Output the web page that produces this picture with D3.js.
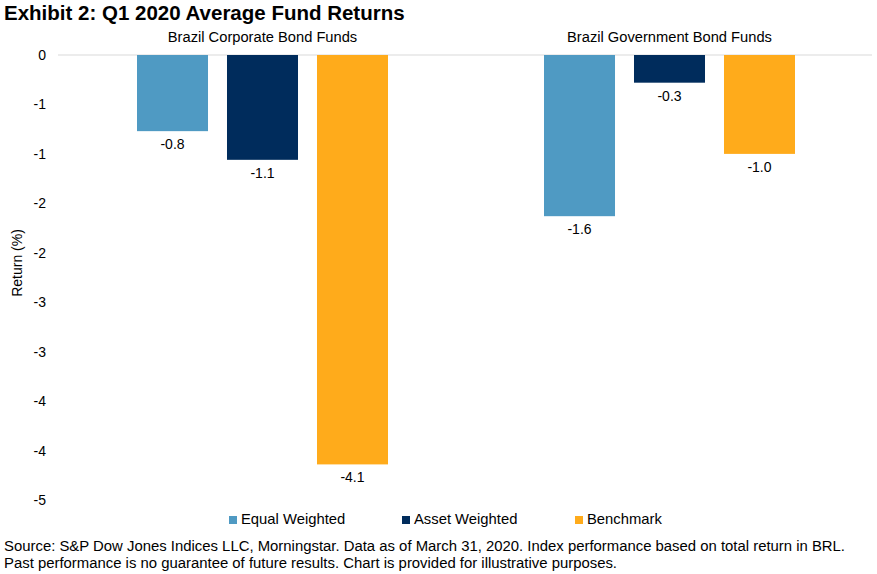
<!DOCTYPE html>
<html>
<head>
<meta charset="utf-8">
<script src="https://cdn.jsdelivr.net/npm/d3@7"></script>
<style>
  body { margin: 0; background: #fff; }
  svg text { font-family: "Liberation Sans", Arial, sans-serif; fill: #000; }
</style>
</head>
<body>
<div id="chart"></div>
<script>
// chart data
const categories = ["Brazil Corporate Bond Funds", "Brazil Government Bond Funds"];
const seriesNames = ["Equal Weighted", "Asset Weighted", "Benchmark"];
const equalWeighted = [-0.77, -1.63];
const assetWeighted = [-1.06, -0.28];
const benchmark = [-4.14, -1.0];
const valueLabels = [["-0.8", "-1.1", "-4.1"], ["-1.6", "-0.3", "-1.0"]];
const tickValues = [0, -0.5, -1, -1.5, -2, -2.5, -3, -3.5, -4, -4.5];
const tickLabels = ["0", "-1", "-1", "-2", "-2", "-3", "-3", "-4", "-4", "-5"];

const colors = ["#4F9AC3", "#002C5C", "#FFAB1B"];
const width = 877, height = 574;

const svg = d3.select("#chart")
    .append("svg")
    .attr("width", width)
    .attr("height", height);

// rows for bars
const rows = [];
categories.forEach(function(c, i) {
    [equalWeighted, assetWeighted, benchmark].forEach(function(s, j) {
        rows.push({ category: c, series: seriesNames[j], value: s[i], label: valueLabels[i][j] });
    });
});

const x0 = d3.scaleBand()
    .domain(categories)
    .range([59, 873]);

const x1 = d3.scaleBand()
    .domain(seriesNames)
    .range([78, 329])
    .paddingInner(0.211);

const y = d3.scaleLinear()
    .domain([-4.5, 0])
    .range([500, 55]);

const color = d3.scaleOrdinal().domain(seriesNames).range(colors);

// title
svg.append("text")
    .attr("x", 4)
    .attr("y", 20)
    .attr("font-size", "20.5px")
    .attr("font-weight", "bold")
    .text("Exhibit 2: Q1 2020 Average Fund Returns");

// zero line
svg.append("line")
    .attr("x1", 58)
    .attr("x2", 872)
    .attr("y1", y(0))
    .attr("y2", y(0))
    .attr("stroke", "#D9D9D9")
    .attr("stroke-width", 1);

// y axis (labels only)
const yAxis = d3.axisLeft(y)
    .tickValues(tickValues)
    .tickSize(0)
    .tickPadding(0)
    .tickFormat(function(d, i) { return tickLabels[i]; });

const yg = svg.append("g")
    .attr("transform", "translate(46,0)")
    .call(yAxis);
yg.select(".domain").remove();
yg.selectAll("text")
    .attr("font-size", "14px")
    .attr("font-family", "Liberation Sans, Arial, sans-serif")
    .attr("fill", "#000");

svg.append("text")
    .attr("transform", "translate(22,263) rotate(-90)")
    .attr("text-anchor", "middle")
    .attr("font-size", "14px")
    .text("Return (%)");

// category labels on top
svg.selectAll(".cat")
    .data(categories)
    .enter()
    .append("text")
    .attr("class", "cat")
    .attr("x", function(d) { return x0(d) + x0.bandwidth() / 2; })
    .attr("y", 42)
    .attr("text-anchor", "middle")
    .attr("font-size", "14.7px")
    .attr("fill", "#000")
    .text(function(d) { return d; });

// bars
svg.selectAll(".bar")
    .data(rows)
    .enter()
    .append("rect")
    .attr("class", "bar")
    .attr("x", function(d) { return x0(d.category) + x1(d.series); })
    .attr("width", x1.bandwidth())
    .attr("y", function(d) { return y(0); })
    .attr("height", function(d) { return y(d.value) - y(0); })
    .attr("fill", function(d) { return color(d.series); });

svg.selectAll(".vlabel")
    .data(rows)
    .enter()
    .append("text")
    .attr("class", "vlabel")
    .attr("x", function(d) { return x0(d.category) + x1(d.series) + x1.bandwidth() / 2; })
    .attr("y", function(d) { return y(d.value) + 18; })
    .attr("text-anchor", "middle")
    .attr("font-size", "14px")
    .text(function(d) { return d.label; });

// legend
const legend = svg.selectAll(".legend")
    .data(seriesNames)
    .enter()
    .append("g")
    .attr("class", "legend")
    .attr("transform", function(d, i) { return "translate(" + (229 + i * 173) + ",515)"; });

legend.append("rect")
    .attr("width", 8)
    .attr("height", 8)
    .attr("y", 1)
    .attr("fill", function(d) { return color(d); });

legend.append("text")
    .attr("x", 12)
    .attr("y", 9)
    .attr("font-size", "14.8px")
    .text(function(d) { return d; });

// footer
svg.append("text")
    .attr("x", 4)
    .attr("y", 551)
    .attr("font-size", "14px")
    .attr("textLength", 841)
    .attr("lengthAdjust", "spacingAndGlyphs")
    .text("Source: S&P Dow Jones Indices LLC, Morningstar. Data as of March 31, 2020. Index performance based on total return in BRL.");

svg.append("text")
    .attr("x", 4)
    .attr("y", 568)
    .attr("font-size", "14px")
    .attr("textLength", 613)
    .attr("lengthAdjust", "spacingAndGlyphs")
    .text("Past performance is no guarantee of future results. Chart is provided for illustrative purposes.");
</script>
</body>
</html>
